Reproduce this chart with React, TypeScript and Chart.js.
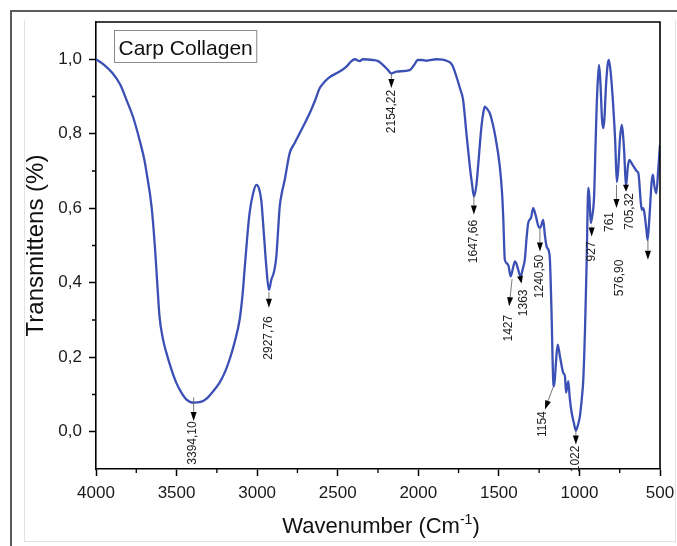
import React, { useEffect, useRef } from 'react';
import { Chart, registerables } from 'chart.js';

Chart.register(...registerables);

// ---- data ----
const wavenumbers = [
  4000, 3950, 3898, 3850, 3811, 3770, 3730, 3700, 3686, 3655, 3635, 3620, 3606, 3585, 3564, 3530, 3502, 3470, 3440, 3394,
  3350, 3316, 3280, 3233, 3200, 3171, 3140, 3109, 3090, 3078, 3060, 3047, 3025, 3005, 2990, 2974, 2958, 2943, 2927, 2912,
  2895, 2881, 2870, 2860, 2845, 2829, 2798, 2767, 2720, 2674, 2640, 2612, 2580, 2550, 2488, 2446, 2415, 2394, 2363, 2344,
  2282, 2250, 2220, 2190, 2167, 2135, 2053, 2025, 2003, 1975, 1949, 1887, 1850, 1825, 1790, 1763, 1740, 1722, 1701, 1680,
  1665, 1655, 1640, 1629, 1608, 1595, 1587, 1570, 1556, 1540, 1525, 1494, 1480, 1473, 1463, 1452, 1440, 1427, 1412, 1400,
  1390, 1380, 1366, 1350, 1339, 1328, 1318, 1300, 1287, 1270, 1250, 1240, 1225, 1215, 1204, 1190, 1183, 1173, 1163, 1157,
  1145, 1135, 1120, 1100, 1090, 1083, 1069, 1060, 1048, 1035, 1022, 1008, 997, 985, 976, 965, 955, 945, 938, 930,
  920, 909, 900, 893, 885, 878, 870, 860, 852, 845, 835, 825, 817, 805, 790, 778, 768, 760, 748, 737,
  730, 722, 711, 700, 690, 675, 660, 645, 634, 620, 613, 605, 598, 585, 577, 565, 552, 544, 535, 523,
  510, 500,
];
const transmittance = [
  1.0, 0.985, 0.963, 0.932, 0.891, 0.845, 0.784, 0.73, 0.695, 0.604, 0.5, 0.4, 0.31, 0.25, 0.213, 0.165, 0.132, 0.105, 0.087, 0.078,
  0.08, 0.088, 0.105, 0.132, 0.16, 0.194, 0.24, 0.3, 0.37, 0.435, 0.53, 0.587, 0.64, 0.663, 0.655, 0.62, 0.53, 0.443, 0.381, 0.408,
  0.43, 0.47, 0.54, 0.604, 0.645, 0.676, 0.748, 0.775, 0.815, 0.855, 0.89, 0.922, 0.94, 0.952, 0.967, 0.98, 0.995, 1.0, 0.995, 1.0,
  0.998, 0.995, 0.985, 0.972, 0.962, 0.967, 0.971, 0.985, 0.998, 0.998, 0.996, 1.0, 0.999, 0.996, 0.985, 0.953, 0.92, 0.891, 0.8, 0.712,
  0.66, 0.632, 0.66, 0.712, 0.82, 0.86, 0.873, 0.865, 0.855, 0.83, 0.8, 0.712, 0.64, 0.578, 0.462, 0.453, 0.445, 0.417, 0.44, 0.457,
  0.45, 0.435, 0.417, 0.44, 0.462, 0.52, 0.56, 0.575, 0.6, 0.578, 0.548, 0.55, 0.569, 0.53, 0.498, 0.485, 0.46, 0.319, 0.14, 0.122,
  0.19, 0.234, 0.2, 0.158, 0.15, 0.105, 0.136, 0.09, 0.051, 0.025, 0.003, 0.02, 0.042, 0.09, 0.14, 0.28, 0.46, 0.655, 0.63, 0.56,
  0.58, 0.632, 0.77, 0.873, 0.95, 0.985, 0.94, 0.84, 0.815, 0.84, 0.93, 0.985, 0.998, 0.96, 0.873, 0.78, 0.67, 0.7, 0.79, 0.824,
  0.8, 0.75, 0.658, 0.71, 0.73, 0.72, 0.71, 0.7, 0.694, 0.62, 0.596, 0.6, 0.591, 0.545, 0.515, 0.58, 0.67, 0.69, 0.66, 0.64,
  0.71, 0.77,
];

const seriesName = 'Carp Collagen';
const xTickValues = [4000, 3500, 3000, 2500, 2000, 1500, 1000, 500];
const xMinorTickValues = [3750, 3250, 2750, 2250, 1750, 1250, 750];
const yTickValues = [0, 0.2, 0.4, 0.6, 0.8, 1.0];
const yMinorTickValues = [0.1, 0.3, 0.5, 0.7, 0.9];

// peak annotations (in data units)
const peakLabels = ['3394,10', '2927,76', '2154,22', '1647,66', '1427', '1363', '1240,50', '1154', '1022', '927', '761', '705,32', '576,90'];
const arrowFromWn = [3394, 2927, 2167, 1655, 1418, 1370, 1245, 1163, 1022, 924, 770, 711, 575];
const arrowFromT = [0.092, 0.375, 0.962, 0.631, 0.41, 0.42, 0.548, 0.12, 0.003, 0.551, 0.663, 0.665, 0.515];
const arrowToWn = [3394, 2927, 2167, 1655, 1436, 1359, 1245, 1214, 1022, 924, 770, 711, 575];
const arrowToT = [0.029, 0.333, 0.923, 0.583, 0.337, 0.398, 0.484, 0.06, -0.034, 0.524, 0.601, 0.644, 0.462];
const labelWn = [3402, 2928, 2167, 1655, 1442, 1349, 1245, 1225, 1022, 924, 811, 686, 748];
const labelTopT = [0.028, 0.31, 0.918, 0.569, 0.314, 0.382, 0.475, 0.055, -0.037, 0.511, 0.59, 0.641, 0.462];

const FONT = "'Liberation Sans', Arial, sans-serif";

const decorPlugin = {
  id: 'decor',
  afterDatasetsDraw(chart: any) {
    const { ctx, chartArea: a } = chart;
    const x = chart.scales.x;
    const y = chart.scales.y;
    ctx.save();

    // top + right frame
    ctx.strokeStyle = '#000';
    ctx.lineWidth = 1.6;
    ctx.beginPath();
    ctx.moveTo(a.left, a.top);
    ctx.lineTo(a.right, a.top);
    ctx.lineTo(a.right, a.bottom);
    ctx.stroke();

    // minor ticks
    ctx.lineWidth = 1.3;
    ctx.beginPath();
    xMinorTickValues.forEach((v) => {
      const px = x.getPixelForValue(v);
      ctx.moveTo(px, a.bottom);
      ctx.lineTo(px, a.bottom + 4);
    });
    yMinorTickValues.forEach((v) => {
      const py = y.getPixelForValue(v);
      ctx.moveTo(a.left, py);
      ctx.lineTo(a.left - 4, py);
    });
    ctx.stroke();

    // peak annotations
    peakLabels.forEach((lab, i) => {
      const x1 = x.getPixelForValue(arrowFromWn[i]);
      const y1 = y.getPixelForValue(arrowFromT[i]);
      const x2 = x.getPixelForValue(arrowToWn[i]);
      const y2 = y.getPixelForValue(arrowToT[i]);
      const dx = x2 - x1;
      const dy = y2 - y1;
      const len = Math.hypot(dx, dy) || 1;
      const ux = dx / len;
      const uy = dy / len;
      const headL = Math.min(9, len * 0.9);
      const headW = 3;
      const bx = x2 - ux * headL;
      const by = y2 - uy * headL;
      ctx.strokeStyle = '#555';
      ctx.lineWidth = 0.8;
      ctx.beginPath();
      ctx.moveTo(x1, y1);
      ctx.lineTo(bx, by);
      ctx.stroke();
      ctx.fillStyle = '#000';
      ctx.beginPath();
      ctx.moveTo(x2, y2);
      ctx.lineTo(bx - uy * headW, by + ux * headW);
      ctx.lineTo(bx + uy * headW, by - ux * headW);
      ctx.closePath();
      ctx.fill();

      const tx = x.getPixelForValue(labelWn[i]);
      const ty = y.getPixelForValue(labelTopT[i]);
      ctx.save();
      ctx.translate(tx, ty);
      ctx.rotate(-Math.PI / 2);
      ctx.font = `12px ${FONT}`;
      ctx.fillStyle = '#222';
      ctx.textAlign = 'right';
      ctx.textBaseline = 'middle';
      ctx.fillText(lab, 0, 0);
      ctx.restore();
    });

    // legend box
    const lx = a.left + 18.5;
    const ly = a.top + 8.5;
    ctx.font = `21px ${FONT}`;
    const tw = ctx.measureText(seriesName).width;
    ctx.strokeStyle = '#8a8a8a';
    ctx.lineWidth = 1;
    ctx.strokeRect(lx, ly, tw + 8, 32);
    ctx.fillStyle = '#111';
    ctx.textAlign = 'left';
    ctx.textBaseline = 'alphabetic';
    ctx.fillText(seriesName, lx + 4, ly + 24);

    // x axis title with superscript
    const main1 = 'Wavenumber (Cm';
    const sup = '-1';
    const main2 = ')';
    ctx.font = `22px ${FONT}`;
    const w1 = ctx.measureText(main1).width;
    const w3 = ctx.measureText(main2).width;
    ctx.font = `14px ${FONT}`;
    const w2 = ctx.measureText(sup).width;
    const total = w1 + w2 + w3;
    const cx = (a.left + a.right) / 2;
    const base = 533;
    let sx = cx - total / 2 + 3;
    ctx.fillStyle = '#111';
    ctx.font = `22px ${FONT}`;
    ctx.fillText(main1, sx, base);
    sx += w1;
    ctx.font = `14px ${FONT}`;
    ctx.fillText(sup, sx, base - 9);
    sx += w2;
    ctx.font = `22px ${FONT}`;
    ctx.fillText(main2, sx, base);

    ctx.restore();
  },
};

export default function App() {
  const canvasRef = useRef<HTMLCanvasElement | null>(null);

  useEffect(() => {
    if (!canvasRef.current) return;
    const points = wavenumbers.map((w, i) => ({ x: w, y: transmittance[i] }));
    const chart = new Chart(canvasRef.current, {
      type: 'line',
      data: {
        datasets: [
          {
            label: seriesName,
            data: points,
            borderColor: '#3b50b4',
            borderWidth: 2.3,
            pointRadius: 0,
            fill: false,
            cubicInterpolationMode: 'monotone',
          },
        ],
      },
      options: {
        animation: false,
        responsive: false,
        devicePixelRatio: 1,
        layout: { padding: { top: 22, right: 17, left: 0, bottom: 0 } },
        plugins: {
          legend: { display: false },
          tooltip: { enabled: false },
        },
        scales: {
          x: {
            type: 'linear',
            reverse: true,
            min: 500,
            max: 4000,
            afterFit: (s: any) => {
              s.height = 77;
              s.paddingLeft = 0;
              s.paddingRight = 0;
            },
            afterBuildTicks: (s: any) => {
              s.ticks = xTickValues.map((v) => ({ value: v }));
            },
            ticks: {
              autoSkip: false,
              maxRotation: 0,
              padding: 7,
              color: '#1a1a1a',
              font: { family: FONT, size: 17 },
              callback: (v: any) => String(v),
            },
            grid: {
              display: true,
              drawOnChartArea: false,
              drawTicks: true,
              tickLength: 7,
              tickColor: '#000',
              tickWidth: 1.5,
            },
            border: { display: true, color: '#000', width: 1.6 },
            title: { display: false },
          },
          y: {
            type: 'linear',
            min: -0.1,
            max: 1.1,
            afterFit: (s: any) => {
              s.width = 96;
              s.paddingTop = 0;
              s.paddingBottom = 0;
            },
            afterBuildTicks: (s: any) => {
              s.ticks = yTickValues.map((v) => ({ value: v }));
            },
            ticks: {
              autoSkip: false,
              padding: 7,
              color: '#1a1a1a',
              font: { family: FONT, size: 17 },
              callback: (v: any) => Number(v).toFixed(1).replace('.', ','),
            },
            grid: {
              display: true,
              drawOnChartArea: false,
              drawTicks: true,
              tickLength: 7,
              tickColor: '#000',
              tickWidth: 1.5,
            },
            border: { display: true, color: '#000', width: 1.6 },
            title: {
              display: true,
              text: 'Transmittens (%)',
              color: '#111',
              font: { family: FONT, size: 24 },
              padding: { top: 22, bottom: 0 },
            },
          },
        },
      },
      plugins: [decorPlugin],
    });
    return () => chart.destroy();
  }, []);

  return (
    <div
      style={{
        position: 'fixed',
        left: 0,
        top: 0,
        width: 677,
        height: 546,
        background: '#fff',
        overflow: 'hidden',
      }}
    >
      <div
        style={{
          position: 'absolute',
          left: 10,
          top: 10,
          width: 720,
          height: 600,
          borderTop: '2px solid #5c5c5c',
          borderLeft: '2px solid #5c5c5c',
        }}
      />
      <div
        style={{
          position: 'absolute',
          left: 24,
          top: 20,
          width: 650,
          height: 521,
          borderLeft: '1px solid #e2e2e2',
          borderRight: '1px solid #e2e2e2',
          borderBottom: '1px solid #e2e2e2',
        }}
      />
      <canvas
        ref={canvasRef}
        width={677}
        height={546}
        style={{ position: 'absolute', left: 0, top: 0, width: 677, height: 546 }}
      />
    </div>
  );
}
